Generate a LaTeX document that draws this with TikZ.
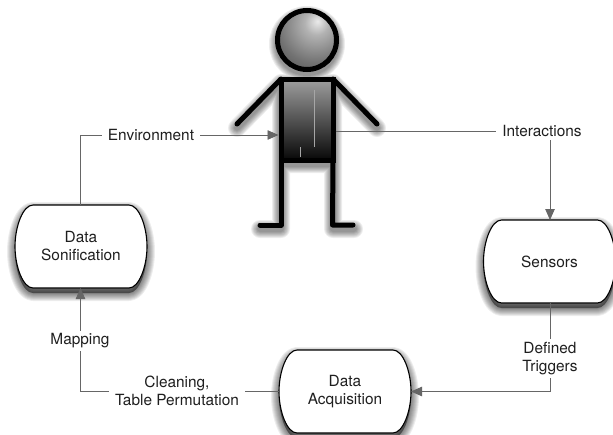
\documentclass[tikz,border=0pt]{standalone}
\usepackage{fontspec}
\setmainfont{TeX Gyre Heros}
\usetikzlibrary{arrows.meta}
\pgfdeclareradialshading{headsh}{\pgfpoint{9bp}{16bp}}{color(0bp)=(black!8);color(10bp)=(black!30);color(30bp)=(black!55);color(55bp)=(black!78);color(75bp)=(black!90);color(100bp)=(black!92)}
\tikzset{
  x=1pt,y=-1pt,
  conn/.style={draw=black!60,line width=0.8pt},
  arrowed/.style={conn,-{Triangle[length=11pt,width=9.5pt,color=black!60]}},
  lbl/.style={font=\fontsize{15.4}{18}\selectfont,align=center,inner sep=0pt,outer sep=0pt,text=black!88},
  gap/.style={lbl,fill=white,inner xsep=6pt,inner ysep=3pt},
  box/.style={minimum width=132pt,minimum height=83pt,inner sep=0pt,outer sep=0pt,align=center,font=\fontsize{15.4}{18}\selectfont,text=black!88},
  limb/.style={line width=5pt,line cap=round,line join=round,draw=black},
}
\newcommand{\boxoutline}{(-48,-41.5) -- (48,-41.5) .. controls (58,-41.5) and (66,-20) .. (66,0) .. controls (66,20) and (58,41.5) .. (48,41.5) -- (-48,41.5) .. controls (-58,41.5) and (-66,20) .. (-66,0) .. controls (-66,-20) and (-58,-41.5) .. (-48,-41.5) -- cycle}
\newcommand{\termbox}[4]{%
  \begin{scope}[shift={(#2,#3)}]
    \foreach \w in {2,4,6,8,10,12,14,16}{\fill[black,opacity=0.07,draw=black,line width=\w pt,line join=round,yshift=-5pt] \boxoutline;}
    \draw[fill=white,line width=1.1pt,draw=black] \boxoutline;
    \node[box] (#1) at (0,0) {#4};
  \end{scope}}
\newcommand{\figureskeleton}{%
  (307,40) circle[radius=29]
  (281,79) rectangle (333,160)
  (281,79) -- (237,124)
  (333,79) -- (377,124)
  (281,160) -- (281,225) -- (260,225)
  (333,160) -- (333,225) -- (354,225)}
\begin{document}
\begin{tikzpicture}
\useasboundingbox[fill=white] (0,0) rectangle (613,434);
% figure shadow
\foreach \w in {6,8,10,12,14,16,18}{\draw[black,opacity=0.07,line width=\w pt,line cap=round,line join=round,yshift=-4pt] \figureskeleton;}
% figure
\node[circle,draw=black,line width=5pt,minimum size=59pt,inner sep=0pt,outer sep=0pt,shading=headsh] (head) at (307,40) {};
\node[rectangle,draw=black,line width=5pt,minimum width=52pt,minimum height=81pt,inner sep=0pt,outer sep=0pt,top color=black!38,middle color=black!62,bottom color=black!97] (body) at (307,119.5) {};
\coordinate (lhand) at (237,124);
\coordinate (rhand) at (377,124);
\coordinate (lknee) at (281,225);
\coordinate (rknee) at (332.5,225);
\coordinate (lfoot) at (260,225);
\coordinate (rfoot) at (353,225);
\coordinate (crease1a) at (314,90);
\coordinate (crease1b) at (314,147);
\coordinate (crease2a) at (300,147);
\coordinate (crease2b) at (300,157);
\draw[limb] (body.north west) -- (lhand);
\draw[limb] (body.north east) -- (rhand);
\draw[limb] (body.south west) -- (lknee) -- (lfoot);
\draw[limb] (body.south east) -- (rknee) -- (rfoot);
\draw[black!35,line width=0.7pt] (crease1a) -- (crease1b);
\draw[black!35,line width=0.7pt] (crease2a) -- (crease2b);
% boxes
\termbox{sonif}{81}{246.5}{Data\\Sonification}
\termbox{sensors}{549.5}{261.5}{Sensors}
\termbox{acq}{345}{391.5}{Data\\Acquisition}
% connector anchors
\coordinate (envcorner) at (80.5,135);
\coordinate (bodyin) at (278.5,135);
\coordinate (bodyout) at (335.5,131);
\coordinate (intcorner) at (550,131);
\coordinate (trigcorner) at (550,391.5);
\coordinate (mapcorner) at (80.5,391.5);
% connectors
\draw[conn] (sonif.north -| envcorner) -- (envcorner);
\draw[arrowed] (envcorner) -- (bodyin);
\draw[conn] (bodyout) -- (intcorner);
\draw[arrowed] (intcorner) -- (sensors.north -| intcorner);
\draw[conn] (sensors.south -| trigcorner) -- (trigcorner);
\draw[arrowed] (trigcorner) -- (acq.east);
\draw[conn] (acq.west) -- (mapcorner);
\draw[arrowed] (mapcorner) -- (sonif.south -| mapcorner);
% labels
\node[gap] (lenv) at (151,135) {Environment};
\node[gap] (lint) at (542,131) {Interactions};
\node[gap] (ltrig) at (550,358.5) {Defined\\Triggers};
\node[gap] (lclean) at (177,391) {Cleaning,\\Table Permutation};
\node[gap] (lmap) at (80,341) {Mapping};
\end{tikzpicture}
\end{document}
